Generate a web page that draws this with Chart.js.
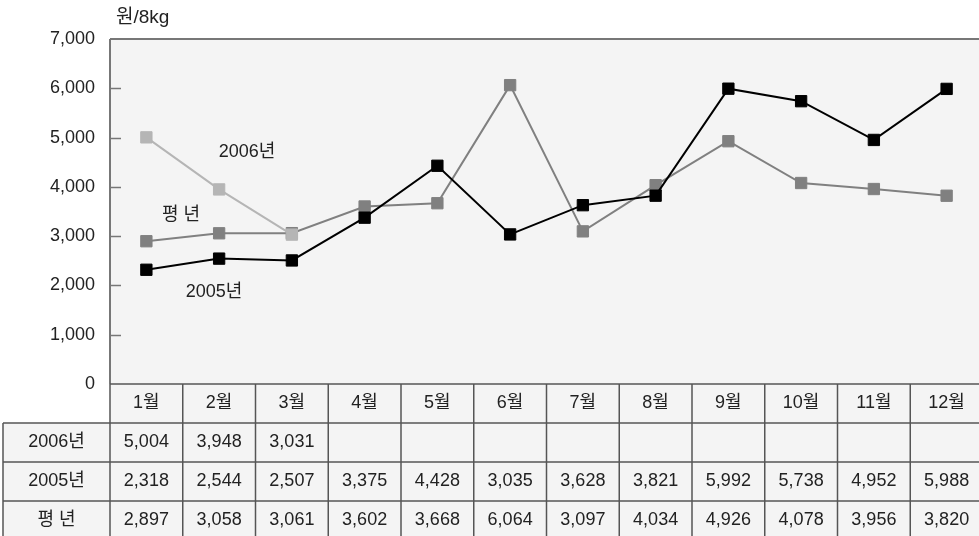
<!DOCTYPE html>
<html lang="ko">
<head>
<meta charset="UTF-8">
<title>월별 가격</title>
<script src="https://cdn.jsdelivr.net/npm/chart.js@4/dist/chart.umd.min.js"></script>
<style>
  body { margin: 0; background: #fff; overflow: hidden; }
  #wrap { width: 992px; height: 536px; }
</style>
</head>
<body>
<div id="wrap"><canvas id="chart"></canvas></div>
<script>
// data
const months = ['1월', '2월', '3월', '4월', '5월', '6월', '7월', '8월', '9월', '10월', '11월', '12월'];
const y2006 = [5004, 3948, 3031, null, null, null, null, null, null, null, null, null];
const y2005 = [2318, 2544, 2507, 3375, 4428, 3035, 3628, 3821, 5992, 5738, 4952, 5988];
const normal = [2897, 3058, 3061, 3602, 3668, 6064, 3097, 4034, 4926, 4078, 3956, 3820];
const rowNames = ['2006년', '2005년', '평 년'];
const yTicks = [0, 1000, 2000, 3000, 4000, 5000, 6000, 7000];

const FONT = '"Liberation Sans", "Noto Sans CJK KR", sans-serif';
const fmt = v => v == null ? '' : v.toLocaleString('en-US');

// plot background, frame, ticks, labels and the data table
const decor = {
  id: 'decor',
  beforeDraw(chart) {
    const { ctx, chartArea: a } = chart;
    ctx.save();
    ctx.fillStyle = '#f4f4f4';
    ctx.fillRect(a.left, a.top, a.right - a.left, a.bottom - a.top);
    ctx.restore();
  },
  beforeDatasetsDraw(chart) {
    const { ctx, chartArea: a, scales } = chart;
    ctx.save();
    ctx.strokeStyle = '#777';
    ctx.lineWidth = 2;
    ctx.beginPath();
    ctx.moveTo(a.left, a.top); ctx.lineTo(a.right, a.top);
    ctx.moveTo(a.left, a.top); ctx.lineTo(a.left, a.bottom);
    ctx.stroke();
    ctx.lineWidth = 1.5;
    ctx.beginPath();
    yTicks.slice(1, -1).forEach(t => {
      const y = Math.round(scales.y.getPixelForValue(t)) + 0.5;
      ctx.moveTo(a.left, y); ctx.lineTo(a.left + 11, y);
    });
    ctx.stroke();

    ctx.fillStyle = '#222';
    ctx.font = '19px ' + FONT;
    ctx.textBaseline = 'middle';
    ctx.fillText('원/8kg', a.left + 6, 18);

    ctx.font = '18px ' + FONT;
    ctx.textAlign = 'center';
    ctx.fillText('2006년', a.left + 137, 152);
    ctx.fillText('평 년', a.left + 71, 215);
    ctx.fillText('2005년', a.left + 104, 292);
    ctx.restore();
  },
  afterDraw(chart) {
    const { ctx, chartArea: a, scales } = chart;
    const x = scales.x;
    const colW = (a.right - a.left) / months.length;
    const rowH = 39;
    const top = a.bottom;
    const labelLeft = 3;
    const rows = [y2006, y2005, normal];
    const bottom = top + rowH * 4;
    ctx.save();
    // cell backgrounds
    ctx.fillStyle = '#f4f4f4';
    ctx.fillRect(a.left, top, a.right - a.left, rowH);
    ctx.fillRect(labelLeft, top + rowH, a.right - labelLeft, rowH * 3);
    // grid lines
    ctx.strokeStyle = '#555';
    ctx.lineWidth = 1.5;
    ctx.beginPath();
    ctx.moveTo(a.left, top); ctx.lineTo(a.right, top);
    for (let r = 1; r <= 3; r++) {
      const y = top + rowH * r;
      ctx.moveTo(labelLeft, y); ctx.lineTo(a.right, y);
    }
    ctx.moveTo(labelLeft, top + rowH); ctx.lineTo(labelLeft, bottom);
    for (let c = 0; c <= months.length; c++) {
      const cx = a.left + colW * c;
      ctx.moveTo(cx, top); ctx.lineTo(cx, bottom);
    }
    ctx.stroke();
    // text
    ctx.fillStyle = '#222';
    ctx.font = '18px ' + FONT;
    ctx.textAlign = 'center';
    ctx.textBaseline = 'middle';
    months.forEach((m, i) => {
      const cx = x.getPixelForValue(i);
      ctx.fillText(m, cx, top + rowH / 2);
      rows.forEach((vals, r) => {
        ctx.fillText(fmt(vals[i]), cx, top + rowH * (r + 1.5));
      });
    });
    rowNames.forEach((n, r) => {
      ctx.fillText(n, (labelLeft + a.left) / 2, top + rowH * (r + 1.5));
    });
    ctx.restore();
  }
};

const point = color => ({
  borderColor: color,
  backgroundColor: color,
  borderWidth: 2,
  pointStyle: 'rect',
  pointRadius: 8,
  pointBorderWidth: 1,
  pointHoverRadius: 8,
  tension: 0,
  spanGaps: false
});

new Chart(document.getElementById('chart'), {
  type: 'line',
  data: {
    labels: months,
    datasets: [
      { label: '2005년', data: y2005, ...point('#000000') },
      { label: '2006년', data: y2006, ...point('#b5b5b5') },
      { label: '평 년', data: normal, ...point('#808080') }
    ]
  },
  options: {
    responsive: true,
    maintainAspectRatio: false,
    animation: false,
    layout: { padding: { top: 39, bottom: 152, left: 0, right: 0 } },
    plugins: { legend: { display: false }, tooltip: { enabled: false } },
    scales: {
      x: { type: 'category', offset: true, display: false },
      y: {
        min: 0, max: 7000,
        afterFit(scale) { scale.width = 110; },
        afterBuildTicks(scale) { scale.ticks = yTicks.map(v => ({ value: v })); },
        grid: { display: false, drawTicks: false },
        border: { display: false },
        ticks: {
          padding: 15,
          color: '#222',
          font: { family: FONT, size: 18 },
          callback: v => fmt(v)
        }
      }
    }
  },
  plugins: [decor]
});
</script>
</body>
</html>
